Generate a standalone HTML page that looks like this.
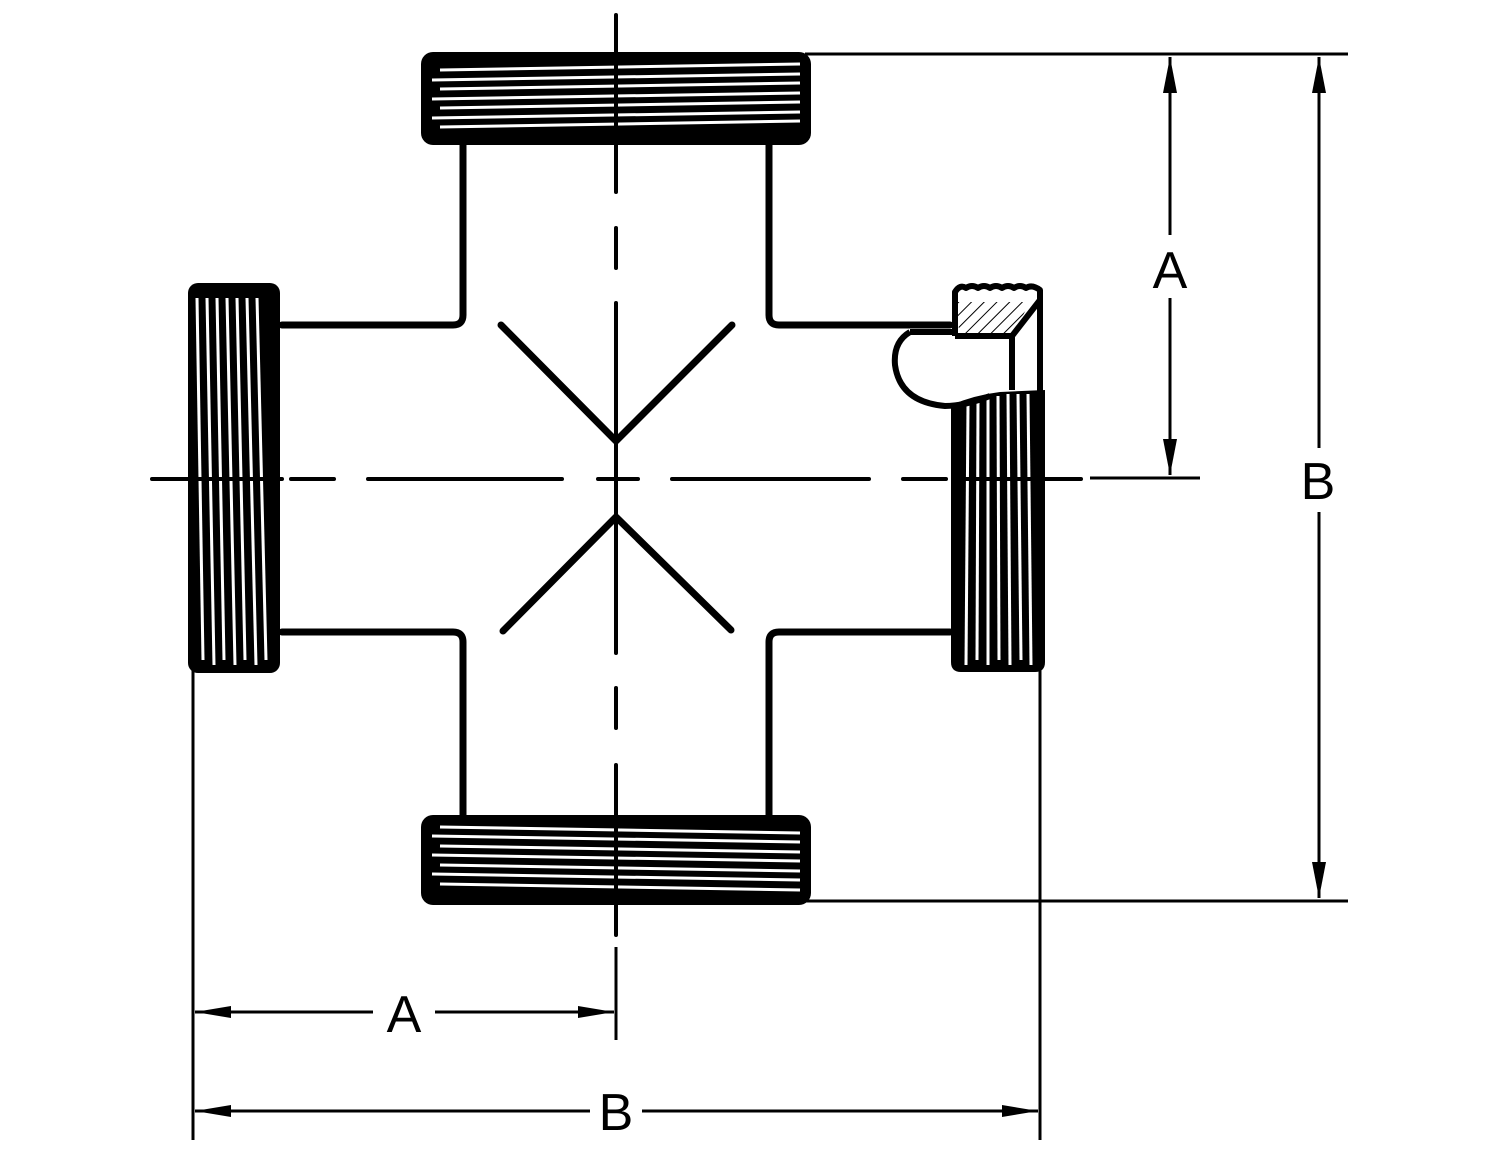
<!DOCTYPE html>
<html><head><meta charset="utf-8"><style>html,body{margin:0;padding:0;background:#fff}svg{display:block}</style></head><body>
<svg width="1500" height="1159" viewBox="0 0 1500 1159" xmlns="http://www.w3.org/2000/svg" font-family="Liberation Sans, sans-serif">
<defs>
<pattern id="hatch" width="9" height="9" patternUnits="userSpaceOnUse" patternTransform="rotate(45)">
<rect width="9" height="9" fill="#fff"/><line x1="0" y1="0" x2="0" y2="9" stroke="#000" stroke-width="2"/></pattern>
</defs>
<g fill="none" stroke="#000" stroke-width="7" stroke-linejoin="round" stroke-linecap="round">
<path d="M463 145 V315 Q463 325 453 325 H282"/>
<path d="M769 145 V315 Q769 325 779 325 H950"/>
<path d="M463 815 V642 Q463 632 453 632 H282"/>
<path d="M769 815 V642 Q769 632 779 632 H950"/>
<path d="M501 325 L616 441 L732 325"/>
<path d="M503 631 L616 517 L731 630"/>
</g>
<g>
<rect x="421" y="52" width="390" height="93" rx="12" fill="#000"/>
<g stroke="#fff" stroke-width="3">
<line x1="440" y1="70" x2="800" y2="64"/><line x1="432" y1="80" x2="800" y2="74"/>
<line x1="440" y1="89" x2="800" y2="83"/><line x1="432" y1="99" x2="800" y2="93"/>
<line x1="440" y1="108" x2="800" y2="102"/><line x1="432" y1="118" x2="800" y2="112"/>
<line x1="440" y1="127" x2="800" y2="121"/>
</g>
</g>
<g>
<rect x="421" y="815" width="390" height="90" rx="12" fill="#000"/>
<g stroke="#fff" stroke-width="3">
<line x1="440" y1="827" x2="800" y2="833"/><line x1="432" y1="836" x2="800" y2="842"/>
<line x1="440" y1="846" x2="800" y2="852"/><line x1="432" y1="855" x2="800" y2="861"/>
<line x1="440" y1="865" x2="800" y2="871"/><line x1="432" y1="874" x2="800" y2="880"/>
<line x1="440" y1="884" x2="800" y2="890"/>
</g>
</g>
<g>
<rect x="188" y="283" width="92" height="390" rx="10" fill="#000"/>
<g stroke="#fff" stroke-width="3">
<line x1="197" y1="298" x2="203" y2="660"/><line x1="207" y1="298" x2="214" y2="665"/>
<line x1="217" y1="298" x2="224" y2="660"/><line x1="227" y1="298" x2="235" y2="665"/>
<line x1="237" y1="298" x2="245" y2="660"/><line x1="247" y1="298" x2="256" y2="665"/>
<line x1="257" y1="298" x2="266" y2="660"/>
</g>
</g>
<g>
<path d="M951 405 Q975 395 1000 392 L1045 390 V662 Q1045 672 1035 672 H961 Q951 672 951 662 Z" fill="#000"/>
<g stroke="#fff" stroke-width="3">
<line x1="968" y1="405" x2="966" y2="665"/><line x1="978" y1="400" x2="977" y2="660"/>
<line x1="988" y1="398" x2="988" y2="665"/><line x1="998" y1="396" x2="999" y2="660"/>
<line x1="1008" y1="394" x2="1010" y2="665"/><line x1="1018" y1="394" x2="1021" y2="660"/>
<line x1="1028" y1="394" x2="1031" y2="665"/>
</g>
<path d="M955 302 L1030 302 L1012 336 L960 336 Z" fill="url(#hatch)"/>
<g fill="none" stroke="#000" stroke-width="6" stroke-linejoin="round">
<path d="M955 336 V292 Q960 284 966 288 Q972 284 978 288 Q984 284 990 288 Q996 284 1002 288 Q1008 284 1014 288 Q1020 284 1026 288 Q1032 284 1040 290 V660"/>
<path d="M1040 300 L1012 336 V390"/>
<path d="M955 336 H1012"/>
<path d="M910 332 Q893 342 895 365 Q900 402 945 406 Q965 406 990 396"/>
<path d="M910 332 H955"/>
</g>
</g>
<g stroke="#000" stroke-width="4" stroke-linecap="round">
<line x1="616" y1="15" x2="616" y2="192"/><line x1="616" y1="228" x2="616" y2="268"/>
<line x1="616" y1="303" x2="616" y2="653"/><line x1="616" y1="688" x2="616" y2="728"/>
<line x1="616" y1="765" x2="616" y2="935"/>
<line x1="152" y1="479" x2="282" y2="479"/><line x1="291" y1="479" x2="334" y2="479"/>
<line x1="368" y1="479" x2="562" y2="479"/><line x1="598" y1="479" x2="638" y2="479"/>
<line x1="672" y1="479" x2="869" y2="479"/><line x1="903" y1="479" x2="946" y2="479"/>
<line x1="958" y1="479" x2="1081" y2="479"/>
</g>
<g stroke="#000" stroke-width="3">
<line x1="805" y1="54" x2="1348" y2="54"/>
<line x1="805" y1="901" x2="1348" y2="901"/>
<line x1="1090" y1="478" x2="1200" y2="478"/>
<line x1="1170" y1="57" x2="1170" y2="235"/><line x1="1170" y1="298" x2="1170" y2="475"/>
<line x1="1319" y1="57" x2="1319" y2="448"/><line x1="1319" y1="512" x2="1319" y2="898"/>
<line x1="616" y1="947" x2="616" y2="1040"/>
<line x1="193" y1="670" x2="193" y2="1140"/>
<line x1="1040" y1="670" x2="1040" y2="1140"/>
<line x1="195" y1="1012" x2="373" y2="1012"/><line x1="435" y1="1012" x2="614" y2="1012"/>
<line x1="195" y1="1111" x2="590" y2="1111"/><line x1="642" y1="1111" x2="1038" y2="1111"/>
</g>
<g fill="#000">
<path d="M1170 57 L1163 93 L1177 93 Z"/><path d="M1170 475 L1163 439 L1177 439 Z"/>
<path d="M1319 57 L1312 93 L1326 93 Z"/><path d="M1319 898 L1312 862 L1326 862 Z"/>
<path d="M195 1012 L231 1006 L231 1018 Z"/><path d="M614 1012 L578 1006 L578 1018 Z"/>
<path d="M195 1111 L231 1105 L231 1117 Z"/><path d="M1038 1111 L1002 1105 L1002 1117 Z"/>
</g>
<g font-size="52" text-anchor="middle" fill="#000">
<text x="1170" y="288">A</text>
<text x="1318" y="499">B</text>
<text x="404" y="1032">A</text>
<text x="616" y="1130">B</text>
</g>
</svg>
</body></html>
